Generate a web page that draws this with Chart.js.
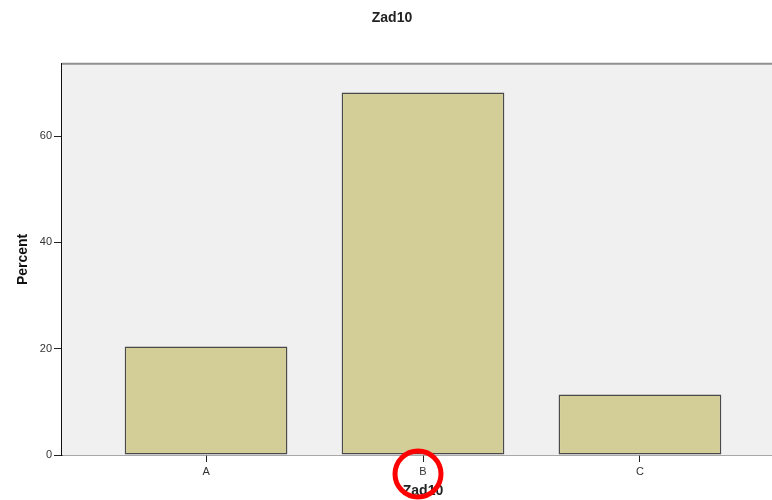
<!DOCTYPE html>
<html>
<head>
<meta charset="utf-8">
<script src="https://cdn.jsdelivr.net/npm/chart.js@4/dist/chart.umd.min.js"></script>
<style>
html,body{margin:0;padding:0;background:#fff;overflow:hidden;width:772px;height:500px;}
canvas{display:block;}
</style>
</head>
<body>
<canvas id="c" width="790" height="500"></canvas>
<script>
const categories = ['A', 'B', 'C'];
const percentValues = [20.4, 68.2, 11.4];
const yTickValues = [0, 20, 40, 60];
const chartTitle = 'Zad10';
const xAxisTitle = 'Zad10';
const yAxisTitle = 'Percent';

const FONT = "'Liberation Sans', Arial, sans-serif";

const plotFrame = {
  id: 'plotFrame',
  beforeDatasetsDraw(chart) {
    const {ctx, chartArea: a} = chart;
    ctx.save();
    ctx.fillStyle = '#f0f0f0';
    ctx.fillRect(a.left, a.top, a.right - a.left, a.bottom - a.top);
    ctx.strokeStyle = '#909090';
    ctx.lineWidth = 2;
    ctx.beginPath();
    ctx.moveTo(a.left, a.top);
    ctx.lineTo(a.right, a.top);
    ctx.lineTo(a.right, a.bottom);
    ctx.stroke();
    ctx.restore();
  }
};

const highlight = {
  id: 'highlight',
  afterDraw(chart) {
    const {ctx, chartArea: a} = chart;
    const x = chart.scales.x.getPixelForValue(1) - 5;
    const y = a.bottom + 19;
    ctx.save();
    ctx.strokeStyle = '#ff0000';
    ctx.lineWidth = 5;
    ctx.beginPath();
    ctx.arc(x, y, 23, 0, Math.PI * 2);
    ctx.stroke();
    ctx.restore();
  }
};

new Chart(document.getElementById('c'), {
  type: 'bar',
  data: {
    datasets: [{
      data: categories.map((c, i) => ({x: i, y: percentValues[i]})),
      backgroundColor: '#d3ce97',
      borderColor: '#4a4a4a',
      borderWidth: 1.5,
      borderSkipped: false,
      categoryPercentage: 1,
      barPercentage: 0.75
    }]
  },
  options: {
    responsive: false,
    animation: false,
    layout: {padding: {left: 0, right: 6, top: 0, bottom: 0}},
    plugins: {
      legend: {display: false},
      tooltip: {enabled: false},
      title: {
        display: true,
        text: chartTitle,
        color: '#222',
        font: {family: FONT, size: 14, weight: 'bold'},
        padding: {top: 10, bottom: 37}
      }
    },
    scales: {
      x: {
        type: 'linear',
        min: -0.664,
        max: 2.664,
        offset: false,
        afterBuildTicks(scale) {
          scale.ticks = categories.map((c, i) => ({value: i}));
        },
        afterFit(scale) { scale.height = 45; },
        ticks: {
          callback: (v) => categories[v],
          color: '#333',
          font: {family: FONT, size: 11},
          padding: 3,
          maxRotation: 0,
          autoSkip: false
        },
        grid: {offset: false, drawOnChartArea: false, tickLength: 7, tickColor: '#222', tickWidth: 1},
        border: {color: '#555', width: 1.5},
        title: {
          display: true,
          text: xAxisTitle,
          color: '#222',
          font: {family: FONT, size: 14, weight: 'bold'},
          padding: {top: 2, bottom: 0}
        }
      },
      y: {
        min: 0,
        max: 73.6,
        afterBuildTicks(scale) {
          scale.ticks = yTickValues.map(v => ({value: v}));
        },
        afterFit(scale) { scale.width = 62; },
        ticks: {
          color: '#333',
          font: {family: FONT, size: 11},
          padding: 2
        },
        grid: {offset: false, drawOnChartArea: false, tickLength: 8, tickColor: '#222', tickWidth: 1},
        border: {color: '#111', width: 1.5},
        title: {
          display: true,
          text: yAxisTitle,
          color: '#111',
          font: {family: FONT, size: 14, weight: 'bold'},
          padding: {top: 15, bottom: 0}
        }
      }
    }
  },
  plugins: [plotFrame, highlight]
});
</script>
</body>
</html>
